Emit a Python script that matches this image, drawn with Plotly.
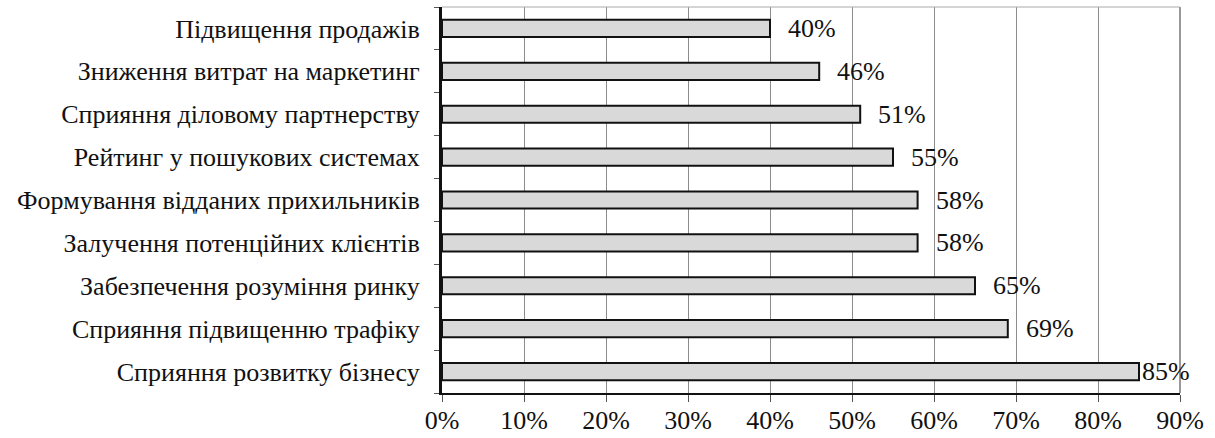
import plotly.graph_objects as go

categories = [
    "Сприяння розвитку бізнесу",
    "Сприяння підвищенню трафіку",
    "Забезпечення розуміння ринку",
    "Залучення потенційних клієнтів",
    "Формування відданих прихильників",
    "Рейтинг у пошукових системах",
    "Сприяння діловому партнерству",
    "Зниження витрат на маркетинг",
    "Підвищення продажів",
]
values = [85, 69, 65, 58, 58, 55, 51, 46, 40]
x_ticks = [0, 10, 20, 30, 40, 50, 60, 70, 80, 90]
x_tick_labels = [f"{v}%" for v in x_ticks]

FONT = "Liberation Serif, Times New Roman, serif"
TXT = "#111111"
FS = 26

fig = go.Figure()
fig.add_trace(go.Bar(
    y=categories,
    x=values,
    orientation="h",
    width=0.4,
    marker=dict(color="#d9d9d9", line=dict(color="#111111", width=2)),
    hoverinfo="skip",
))

for c, v in zip(categories, values):
    fig.add_annotation(
        x=v, y=c, xref="x", yref="y",
        text=f"{v}%", showarrow=False,
        xanchor="left", yanchor="middle",
        xshift=1 if v >= 80 else 16,
        font=dict(family=FONT, size=FS, color=TXT),
    )

fig.update_layout(
    width=1215, height=438,
    margin=dict(l=442, r=35, t=7, b=45),
    paper_bgcolor="white",
    plot_bgcolor="white",
    showlegend=False,
    bargap=0.6,
    font=dict(family=FONT, size=FS, color=TXT),
)
fig.update_xaxes(
    range=[0, 90],
    tickvals=x_ticks,
    ticktext=x_tick_labels,
    showgrid=True, gridcolor="#8c8c8c", gridwidth=1,
    ticks="outside", ticklen=7, tickcolor="#555555",
    showline=True, linecolor="#111111", linewidth=2,
    mirror=False,
    zeroline=False,
    automargin=False,
    ticklabelstandoff=-4,
    tickfont=dict(family=FONT, size=FS, color=TXT),
)
fig.update_yaxes(
    categoryorder="array", categoryarray=categories,
    range=[-0.5, len(categories) - 0.5],
    tickson="boundaries",
    ticks="outside", ticklen=5, tickcolor="#555555",
    showline=True, linecolor="#111111", linewidth=3,
    showgrid=False,
    automargin=False,
    ticklabelstandoff=14,
    tickfont=dict(family=FONT, size=FS, color=TXT),
)
# right and top frame
fig.add_shape(type="line", xref="paper", yref="paper", x0=1, x1=1, y0=0, y1=1,
              line=dict(color="#333333", width=1))
fig.add_shape(type="line", xref="paper", yref="paper", x0=0, x1=1, y0=1, y1=1,
              line=dict(color="#aaaaaa", width=1))

fig.write_html("out.html")
